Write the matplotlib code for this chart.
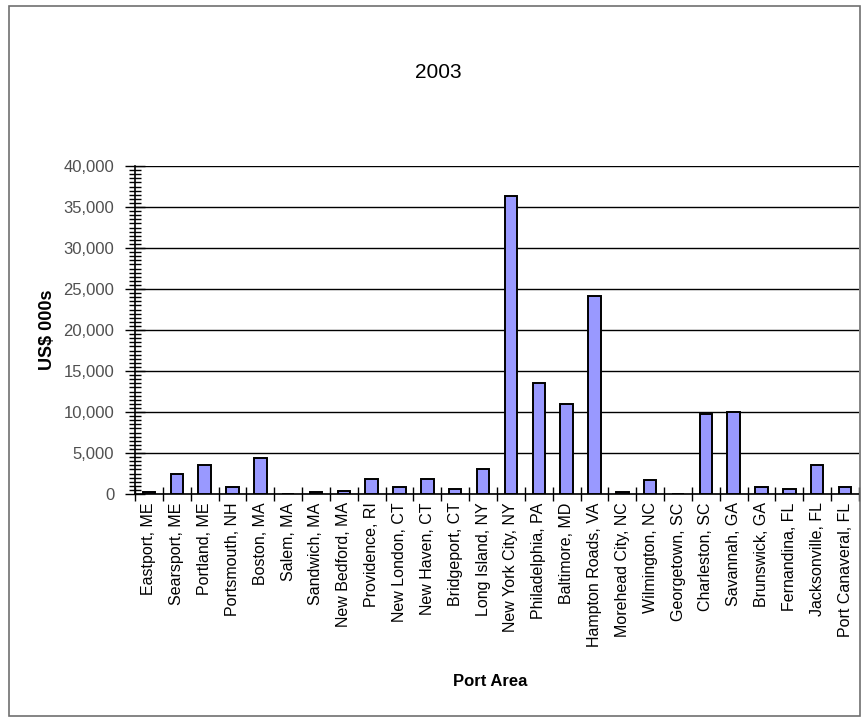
import matplotlib
matplotlib.use("Agg")
import matplotlib.pyplot as plt
from matplotlib.ticker import MultipleLocator, FuncFormatter, FixedLocator
from matplotlib.patches import Rectangle
import numpy as np

plt.rcParams['font.family'] = ['Liberation Sans', 'DejaVu Sans']

ports = ["Eastport, ME", "Searsport, ME", "Portland, ME", "Portsmouth, NH",
         "Boston, MA", "Salem, MA", "Sandwich, MA", "New Bedford, MA",
         "Providence, RI", "New London, CT", "New Haven, CT", "Bridgeport, CT",
         "Long Island, NY", "New York City, NY", "Philadelphia, PA",
         "Baltimore, MD", "Hampton Roads, VA", "Morehead City, NC",
         "Wilmington, NC", "Georgetown, SC", "Charleston, SC", "Savannah, GA",
         "Brunswick, GA", "Fernandina, FL", "Jacksonville, FL",
         "Port Canaveral, FL"]
values = [200, 2500, 3500, 800, 4400, 0, 200, 400, 1800, 800, 1800, 600,
          3000, 36400, 13500, 11000, 24200, 200, 1700, 0, 9800, 10000,
          800, 600, 3500, 800]

W, H = 865, 719
fig = plt.figure(figsize=(W / 100, H / 100), dpi=100)
fig.patch.set_facecolor('white')

# outer chart frame
fig.add_artist(Rectangle((9 / W, 1 - 716 / H), (860 - 9) / W, (716 - 6) / H,
                         transform=fig.transFigure, fill=False,
                         edgecolor='#707070', linewidth=1.2))

left, right, top, bottom = 135, 859, 166, 494
ax = fig.add_axes([left / W, 1 - bottom / H, (right - left) / W, (bottom - top) / H])

x = np.arange(len(ports))
ax.bar(x, values, width=0.45, color='#9999FF', edgecolor='black', linewidth=1.4, zorder=3)

ax.set_xlim(-0.5, len(ports) - 0.5)
ax.set_ylim(0, 40000)

ax.yaxis.set_major_locator(MultipleLocator(5000))
ax.yaxis.set_minor_locator(MultipleLocator(500))
ax.yaxis.set_major_formatter(FuncFormatter(lambda v, p: f"{int(v):,}"))
ax.grid(axis='y', which='major', color='black', linewidth=1.0, zorder=1)

ax.set_xticks(x)
ax.set_xticklabels(ports, rotation=90, fontsize=11.5)
ax.xaxis.set_minor_locator(FixedLocator(np.arange(-0.5, len(ports), 1.0)))
ax.tick_params(axis='x', which='major', length=0, pad=6)
ax.tick_params(axis='x', which='minor', length=10, direction='inout', width=1)
ax.tick_params(axis='y', which='major', length=14, direction='inout', width=1,
               labelsize=12, labelcolor='#505050', pad=8)
ax.tick_params(axis='y', which='minor', length=9, direction='inout', width=1)

for s in ['top', 'right']:
    ax.spines[s].set_visible(False)
ax.spines['left'].set_linewidth(1.2)
ax.spines['bottom'].set_linewidth(1.2)

fig.text(438 / W, 1 - 72 / H, "2003", ha='center', va='center', fontsize=15)
fig.text(48 / W, 1 - 330 / H, "US$ 000s", ha='center', va='center',
         rotation=90, fontsize=13, fontweight='bold')
fig.text(490 / W, 1 - 682 / H, "Port Area", ha='center', va='center',
         fontsize=12, fontweight='bold')

fig.savefig("out.png", dpi=100, facecolor='white')
